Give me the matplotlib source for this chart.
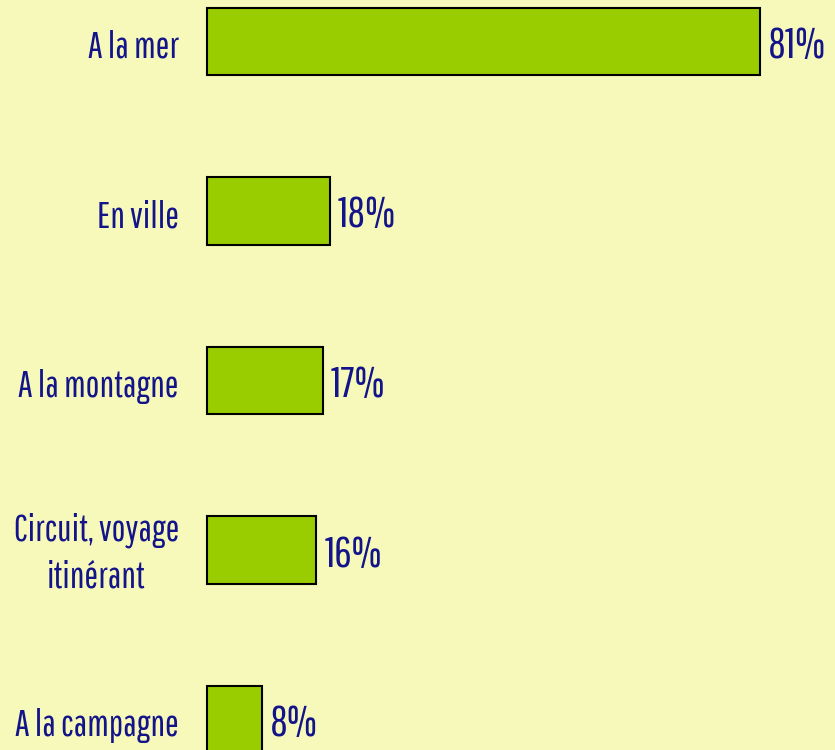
import matplotlib
matplotlib.use("Agg")
import matplotlib.pyplot as plt

categories = ["A la mer", "En ville", "A la montagne", "Circuit, voyage\nitinérant", "A la campagne"]
values = [81, 18, 17, 16, 8]
value_labels = ["81%", "18%", "17%", "16%", "8%"]

fam = ["Pathway Gothic One", "Roboto Condensed", "DejaVu Sans"]

bg = "#F6F9B9"
bar_c = "#9ACD00"
txt_c = "#14148A"

fig = plt.figure(figsize=(8.35, 7.5), dpi=100, facecolor=bg)
ax = fig.add_axes([0, 0, 1, 1], facecolor=bg)
ypos = list(range(len(categories)))
ax.barh(ypos, values, height=0.4, color=bar_c, edgecolor="black", linewidth=1.5)

px = 6.83
py = 169.5
ax.set_xlim(-207 / px, (835 - 207) / px)
ax.set_ylim((750 - 41.5) / py, -41.5 / py)

renderer = fig.canvas.get_renderer()
label_right = -28 / px

for y, v, lab, cat in zip(ypos, values, value_labels, categories):
    ax.text(v + 8 / px, y + 16.5 / py, lab, ha="left", va="baseline", fontsize=31, color=txt_c,
            family=fam)
    lines = cat.split("\n")
    if len(lines) == 1:
        ax.text(label_right, y + 16.5 / py, cat, ha="right", va="baseline", fontsize=26.5,
                color=txt_c, family=fam)
    else:
        t1 = ax.text(label_right, y - 10 / py, lines[0], ha="right", va="baseline", fontsize=26.5,
                     color=txt_c, family=fam)
        bb = t1.get_window_extent(renderer)
        cx_px = (bb.x0 + bb.x1) / 2
        cx = ax.transData.inverted().transform((cx_px, 0))[0]
        for k, ln in enumerate(lines[1:], start=1):
            ax.text(cx, y + (-10 + 47 * k) / py, ln, ha="center", va="baseline", fontsize=26.5,
                    color=txt_c, family=fam)

ax.axis("off")
fig.savefig("out.png", dpi=100, facecolor=bg)
